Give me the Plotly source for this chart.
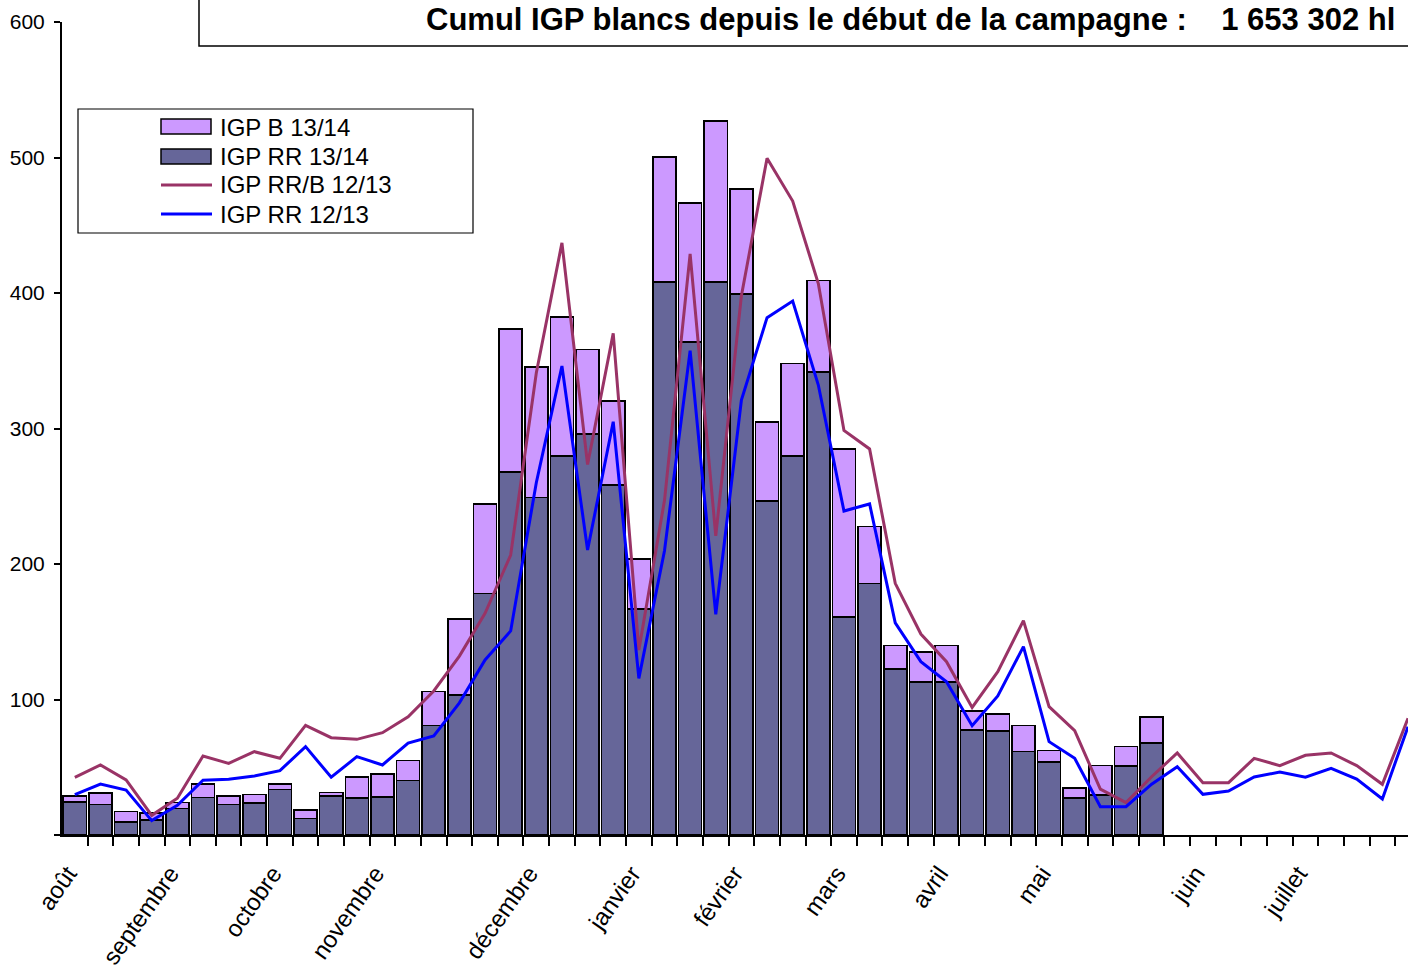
import plotly.graph_objects as go

# ---- data ----
weeks = list(range(53))  # weekly categories, août -> juillet

igp_rr_1314 = [24.4, 22.6, 9.8, 11.0, 19.7, 27.6, 22.4, 23.4, 33.7, 12.1,
               28.8, 27.1, 28.0, 40.1, 80.7, 103.3, 178.2, 268.1, 249.2, 279.9,
               295.9, 258.3, 167.0, 408.0, 364.0, 408.0, 399.3, 246.7, 279.7, 341.7,
               160.9, 185.7, 122.5, 113.1, 113.1, 77.7, 76.8, 61.5, 53.9, 27.1,
               29.5, 50.9, 67.7]

igp_b_1314 = [4.4, 8.6, 7.4, 5.1, 4.2, 10.0, 6.4, 6.6, 3.9, 6.4,
              2.7, 15.7, 17.0, 15.0, 25.1, 56.1, 66.3, 105.3, 96.4, 102.6,
              62.5, 62.2, 36.9, 92.4, 102.3, 119.1, 77.3, 58.1, 68.4, 67.4,
              124.0, 42.1, 17.5, 22.0, 26.9, 14.0, 12.3, 19.2, 8.6, 7.4,
              21.7, 14.3, 19.4]

igp_rrb_1213 = [42.6, 51.7, 40.6, 14.5, 27.1, 58.3, 52.9, 61.5, 56.6, 80.9,
                71.8, 70.6, 75.5, 87.3, 106.3, 132.0, 163.6, 206.6, 341.0, 437.0,
                273.4, 370.2, 136.5, 247.0, 428.8, 220.8, 398.0, 499.5, 467.9, 407.0,
                298.6, 284.9, 185.7, 148.3, 127.9, 94.1, 120.5, 158.2, 94.7, 77.0,
                33.9, 23.9, 43.0, 60.5, 38.6, 38.6, 56.6, 51.2, 58.8, 60.5,
                51.2, 37.4, 86.1]

igp_rr_1213 = [29.8, 37.6, 33.2, 10.6, 21.9, 40.4, 41.1, 43.5, 47.5, 65.2,
               42.6, 57.8, 51.7, 67.9, 73.1, 97.5, 129.2, 150.6, 260.0, 346.1,
               210.3, 305.0, 115.6, 209.8, 357.4, 162.8, 321.0, 381.8, 394.1, 332.1,
               239.1, 244.3, 156.6, 127.9, 113.1, 80.7, 102.6, 139.0, 68.9, 56.6,
               20.9, 20.9, 37.5, 50.4, 30.0, 32.5, 42.8, 46.5, 42.6, 49.2,
               41.3, 26.6, 79.9]

month_labels = ["août", "septembre", "octobre", "novembre", "décembre", "janvier",
                "février", "mars", "avril", "mai", "juin", "juillet"]
month_weeks = [0, 4, 8, 12, 18, 22, 26, 30, 34, 38, 44, 48]

y_ticks = [0, 100, 200, 300, 400, 500, 600]
y_ticktext = ["", "100", "200", "300", "400", "500", "600"]

title_text = "Cumul IGP blancs depuis le début de la campagne :\u00a0\u00a0\u00a0 1 653 302 hl"
legend_names = ["IGP B 13/14", "IGP RR 13/14", "IGP RR/B 12/13", "IGP RR 12/13"]

# ---- styling ----
W, H = 1408, 973
ML, MR, MT, MB = 62, 0, 22, 138
FONT = "Liberation Sans, Arial, sans-serif"
C_LIGHT = "#CC99FF"
C_DARK = "#666699"
C_MAROON = "#993366"
C_BLUE = "#0000FF"
LABEL_SHIFT = 0.27  # nudges rotated month labels so their end sits at the week

pw = W - ML - MR
ph = H - MT - MB


def px(x):
    # page pixel -> paper fraction
    return (x - ML) / pw


def py(y):
    return (H - MB - y) / ph


n_bars = len(igp_rr_1314)

fig = go.Figure()
fig.add_trace(go.Bar(x=weeks[:n_bars], y=igp_rr_1314, name=legend_names[1],
                     marker=dict(color=C_DARK, line=dict(color="black", width=1.6)),
                     showlegend=False))
fig.add_trace(go.Bar(x=weeks[:n_bars], y=igp_b_1314, name=legend_names[0],
                     marker=dict(color=C_LIGHT, line=dict(color="black", width=1.6)),
                     showlegend=False))
fig.add_trace(go.Scatter(x=weeks, y=igp_rrb_1213, name=legend_names[2], mode="lines",
                         line=dict(color=C_MAROON, width=3), showlegend=False))
fig.add_trace(go.Scatter(x=weeks, y=igp_rr_1213, name=legend_names[3], mode="lines",
                         line=dict(color=C_BLUE, width=3), showlegend=False))

shapes = []
annotations = []

# title box
shapes.append(dict(type="rect", xref="paper", yref="paper",
                   x0=px(199), x1=px(1450), y0=py(46), y1=py(-20),
                   line=dict(color="black", width=1.5), fillcolor="rgba(0,0,0,0)"))
annotations.append(dict(xref="paper", yref="paper", x=px(424), y=py(19),
                        xanchor="left", yanchor="middle", showarrow=False,
                        text="<b>" + title_text + "</b>",
                        font=dict(family=FONT, size=31, color="black")))

# legend box (manual)
shapes.append(dict(type="rect", xref="paper", yref="paper",
                   x0=px(78), x1=px(473), y0=py(233), y1=py(109),
                   line=dict(color="black", width=1.2), fillcolor="white", layer="above"))
rows = [127, 157, 185, 214]
shapes.append(dict(type="rect", xref="paper", yref="paper",
                   x0=px(161), x1=px(211), y0=py(134), y1=py(119),
                   line=dict(color="black", width=1.5), fillcolor=C_LIGHT, layer="above"))
shapes.append(dict(type="rect", xref="paper", yref="paper",
                   x0=px(161), x1=px(211), y0=py(164), y1=py(149),
                   line=dict(color="black", width=1.5), fillcolor=C_DARK, layer="above"))
shapes.append(dict(type="line", xref="paper", yref="paper",
                   x0=px(161), x1=px(212), y0=py(rows[2]), y1=py(rows[2]),
                   line=dict(color=C_MAROON, width=3), layer="above"))
shapes.append(dict(type="line", xref="paper", yref="paper",
                   x0=px(161), x1=px(212), y0=py(rows[3]), y1=py(rows[3]),
                   line=dict(color=C_BLUE, width=3), layer="above"))
for name, r in zip(legend_names, rows):
    annotations.append(dict(xref="paper", yref="paper", x=px(218), y=py(r),
                            xanchor="left", yanchor="middle", showarrow=False,
                            text=name, font=dict(family=FONT, size=24, color="black")))

fig.update_layout(
    width=W, height=H,
    margin=dict(l=ML, r=MR, t=MT, b=MB, pad=0),
    paper_bgcolor="white", plot_bgcolor="white",
    barmode="stack", bargap=0.1,
    font=dict(family=FONT, color="black"),
    shapes=shapes, annotations=annotations,
    showlegend=False,
    xaxis=dict(range=[-0.5, 52.0], showgrid=False, zeroline=False,
               showline=True, linecolor="black", linewidth=2,
               tickmode="array", tickvals=[w - LABEL_SHIFT for w in month_weeks],
               ticktext=month_labels,
               ticks="", tickangle=-55, ticklabelstandoff=13,
               tickfont=dict(family=FONT, size=24, color="black"),
               minor=dict(ticks="outside", tickmode="array",
                          tickvals=[w + 0.5 for w in weeks[:-1]],
                          ticklen=9, tickwidth=1.5, tickcolor="black")),
    yaxis=dict(range=[0, 600], showgrid=False, zeroline=False,
               showline=True, linecolor="black", linewidth=2,
               tickmode="array", tickvals=y_ticks, ticktext=y_ticktext,
               ticks="outside", ticklen=6, tickwidth=1.5, tickcolor="black",
               ticklabelstandoff=5,
               tickfont=dict(family=FONT, size=21, color="black")),
)

fig.write_html("out.html",
               config={"displayModeBar": False},
               post_script="document.body.style.margin='0';"
                           "document.body.style.overflow='hidden';")
